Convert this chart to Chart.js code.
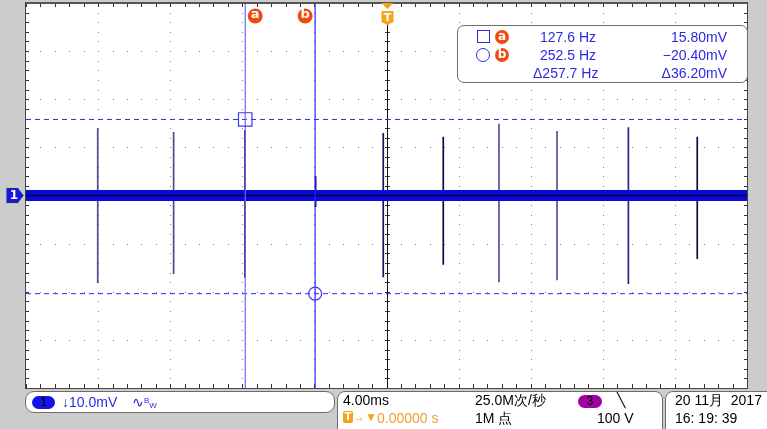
<!DOCTYPE html>
<html>
<head>
<meta charset="utf-8">
<script src="https://cdn.jsdelivr.net/npm/chart.js@4.4.0/dist/chart.umd.min.js"></script>
<style>
  html, body { margin: 0; padding: 0; background: #cccccc; }
  #wrap { position: relative; width: 767px; height: 429px; overflow: hidden; background: #cccccc;
          font-family: "Liberation Sans", Arial, sans-serif; }
  #scope { position: absolute; left: 0; top: 0; }
  .panel { position: absolute; background: #fff; border: 1.5px solid #6e6e6e; box-sizing: border-box; }
  .t { position: absolute; white-space: nowrap; font-size: 14px; line-height: 16px; }
  .blue { color: #2a2ae0; }
  .dot { position: absolute; width: 14px; height: 14px; border-radius: 50%; background: #f04a10;
         color: #fff; font: bold 12px/13px "DejaVu Sans", sans-serif; text-align: center; }
  .pill { position: absolute; height: 13px; border-radius: 7px; font-size: 12px; line-height: 13px;
          text-align: center; color: #000; }
</style>
</head>
<body>
<div id="wrap">
  <canvas id="scope" width="767" height="429"></canvas>

  <!-- cursor readout -->
  <div class="panel" style="left:457px; top:25px; width:291px; height:58px; border-radius:7px;"></div>
  <div style="position:absolute; left:477px; top:30px; width:11px; height:11px; border:1.5px solid #2a2ae0;"></div>
  <div style="position:absolute; left:476px; top:48px; width:12px; height:12px; border:1.5px solid #2a2ae0; border-radius:50%;"></div>
  <div class="dot" style="left:495px; top:30px;">a</div>
  <div class="dot" style="left:495px; top:48px;">b</div>
  <div class="t blue" id="hzA" style="left:540px; top:29px;"></div>
  <div class="t blue" id="hzB" style="left:540px; top:47px;"></div>
  <div class="t blue" id="hzD" style="left:533px; top:65px;"></div>
  <div class="t blue" id="mvA" style="right:40px; top:29px;"></div>
  <div class="t blue" id="mvB" style="right:40px; top:47px;"></div>
  <div class="t blue" id="mvD" style="right:40px; top:65px;"></div>

  <!-- channel box -->
  <div class="panel" style="left:25px; top:391px; width:310px; height:22px; border-radius:9px;"></div>
  <div class="pill" style="left:32px; top:396px; width:23px; background:#1414e6;">1</div>
  <div class="t blue" style="left:62px; top:394px;">↓10.0mV</div>
  <div class="t blue" style="left:132px; top:394px;">∿<span style="font-size:8px; position:relative; top:-4px;">B</span><span style="font-size:8px; position:relative; top:1px;">W</span></div>

  <!-- timebase box -->
  <div class="panel" style="left:337px; top:391px; width:326px; height:48px; border-radius:8px;"></div>
  <div class="t" style="left:343px; top:392px;">4.00ms</div>
  <div style="position:absolute; left:343px; top:411px; width:10px; height:12px; background:#f7a21b; border-radius:2px;
              color:#fff; font:bold 10px/12px 'DejaVu Sans', sans-serif; text-align:center;">T</div>
  <div class="t" style="left:353px; top:409px; color:#f7a21b; font-size:12px;">→▼</div>
  <div class="t" style="left:377px; top:410px; color:#f0a030;">0.00000 s</div>
  <div class="t" style="left:475px; top:392px;">25.0M次/秒</div>
  <div class="pill" style="left:578px; top:395px; width:24px; background:#a000a0;">3</div>
  <div class="t" style="left:617px; top:392px;">╲</div>
  <div class="t" style="left:475px; top:410px;">1M 点</div>
  <div class="t" style="left:597px; top:410px;">100 V</div>

  <!-- clock box -->
  <div class="panel" style="left:665px; top:391px; width:120px; height:48px; border-radius:8px;"></div>
  <div class="t" style="left:675px; top:392px;">20 11月&nbsp; 2017</div>
  <div class="t" style="left:675px; top:410px;">16: 19: 39</div>
</div>

<script>
// time axis in ms, voltage axis in mV (10 divisions x 4 ms, 8 divisions x 10 mV)
const timeRange = [-20, 20];
const voltRange = [-40, 40];

// glitch spikes riding on the baseline
const spikeTimes = [-16.02, -11.81, -7.85, -3.93, -0.18, 3.15, 6.24, 9.46, 13.42, 17.24];
const spikeHigh  = [14.0, 13.2, 13.6, 4.0, 13.0, 12.2, 14.9, 13.4, 14.2, 12.2];
const spikeLow   = [-18.2, -16.3, -17.1, -2.4, -17.0, -14.4, -18.0, -17.6, -18.4, -13.2];
const spikeShade = ['#4a4a90', '#4a4a90', '#10104e', '#10104e', '#16165c', '#0c0c48', '#52529a', '#55559c', '#26267e', '#0c0c48'];

// cursor readouts
const cursorHz = [127.6, 252.5];
const cursorMv = [15.80, -20.40];
const deltaHz = 257.7;
const deltaMv = 36.20;

const tA = -1000 / cursorHz[0];
const tB = -1000 / cursorHz[1];

document.getElementById('hzA').textContent = cursorHz[0].toFixed(1) + ' Hz';
document.getElementById('hzB').textContent = cursorHz[1].toFixed(1) + ' Hz';
document.getElementById('hzD').textContent = '\u0394' + deltaHz.toFixed(1) + ' Hz';
document.getElementById('mvA').textContent = cursorMv[0].toFixed(2) + 'mV';
document.getElementById('mvB').textContent = cursorMv[1].toFixed(2).replace('-', '\u2212') + 'mV';
document.getElementById('mvD').textContent = '\u0394' + deltaMv.toFixed(2) + 'mV';

const flat = (v) => [{ x: timeRange[0], y: v }, { x: timeRange[1], y: v }];
const upright = (t) => [{ x: t, y: voltRange[0] }, { x: t, y: voltRange[1] }];

const datasets = [
    // cursor markers
    { data: [{ x: tA, y: cursorMv[0] }], pointStyle: 'rect', pointRadius: 9.5, borderColor: '#3a3af0',
      backgroundColor: 'rgba(0,0,0,0)', pointBorderWidth: 1.2, showLine: false },
    { data: [{ x: tB, y: cursorMv[1] }], pointStyle: 'circle', pointRadius: 6.5, borderColor: '#3a3af0',
      backgroundColor: 'rgba(0,0,0,0)', pointBorderWidth: 1.2, showLine: false },
    // cursors
    { data: upright(tA), borderColor: '#6a6aff', borderWidth: 1.2 },
    { data: upright(tB), borderColor: '#2626ff', borderWidth: 1.2 },
    { data: flat(cursorMv[0]), borderColor: '#2c2cf0', borderWidth: 1, borderDash: [5, 4] },
    { data: flat(cursorMv[1]), borderColor: '#2c2cf0', borderWidth: 1, borderDash: [5, 4] },
    // trace baseline
    { data: flat(0), borderColor: '#00006a', borderWidth: 2 },
    { data: flat(0), borderColor: '#0a0ad4', borderWidth: 11 },
];
spikeTimes.forEach((t, i) => {
    datasets.push({
        data: [{ x: t, y: spikeHigh[i] }, { x: t, y: spikeLow[i] }],
        borderColor: spikeShade[i],
        borderWidth: 1.7
    });
});

// graticule, trigger line and border
const graticule = {
    id: 'graticule',
    beforeDatasetsDraw(chart) {
        const { ctx, chartArea: a, scales: { x, y } } = chart;
        ctx.save();
        ctx.fillStyle = '#fff';
        ctx.fillRect(a.left, a.top, a.right - a.left, a.bottom - a.top);

        const xs = [], ys = [];
        for (let i = 0; i <= 50; i++) xs.push(Math.round(x.getPixelForValue(timeRange[0] + i * 0.8)));
        for (let i = 0; i <= 40; i++) ys.push(Math.round(y.getPixelForValue(voltRange[0] + i * 2)));
        const cx = xs[25], cy = ys[20];

        ctx.fillStyle = '#7a7a7a';
        for (let i = 0; i <= 50; i += 5) ys.forEach(py => ctx.fillRect(xs[i], py, 1, 1));
        for (let j = 0; j <= 40; j += 5) xs.forEach(px => ctx.fillRect(px, ys[j], 1, 1));

        ctx.fillStyle = '#333';
        ys.forEach(py => {
            ctx.fillRect(cx - 2, py, 5, 1);
            ctx.fillRect(a.left, py, 3, 1);
            ctx.fillRect(a.right - 3, py, 3, 1);
        });
        xs.forEach(px => {
            ctx.fillRect(px, cy - 2, 1, 5);
            ctx.fillRect(px, a.top, 1, 4);
            ctx.fillRect(px, a.bottom - 4, 1, 4);
        });

        // trigger position
        ctx.fillStyle = '#111';
        ctx.fillRect(cx, a.top + 20, 1, a.bottom - a.top - 20);
        ctx.restore();
    },
    afterDatasetsDraw(chart) {
        const { ctx, chartArea: a, scales: { x, y } } = chart;
        ctx.save();
        ctx.strokeStyle = '#444';
        ctx.lineWidth = 1;
        ctx.strokeRect(a.left - 0.5, a.top - 0.5, a.right - a.left + 1, a.bottom - a.top + 1);
        ctx.fillStyle = '#555';
        ctx.fillRect(a.left, a.top - 1, a.right - a.left, 2);

        ctx.textAlign = 'center';
        ctx.textBaseline = 'middle';

        // cursor tags
        const tag = (px, label) => {
            ctx.fillStyle = '#f04a10';
            ctx.beginPath();
            ctx.arc(px, a.top + 13, 7.5, 0, Math.PI * 2);
            ctx.fill();
            ctx.fillStyle = '#fff';
            ctx.font = 'bold 13px "DejaVu Sans", sans-serif';
            ctx.fillText(label, px, a.top + 12);
        };
        tag(x.getPixelForValue(tA) + 10, 'a');
        tag(x.getPixelForValue(tB) - 10, 'b');

        // trigger tag
        const tx = Math.round(x.getPixelForValue(0)) + 0.5;
        ctx.fillStyle = '#f7a21b';
        ctx.beginPath();
        ctx.moveTo(tx - 6, a.top);
        ctx.lineTo(tx + 6, a.top);
        ctx.lineTo(tx, a.top + 6);
        ctx.closePath();
        ctx.fill();
        ctx.beginPath();
        ctx.moveTo(tx - 6, a.top + 8);
        ctx.lineTo(tx + 6, a.top + 8);
        ctx.lineTo(tx + 6, a.top + 19);
        ctx.lineTo(tx, a.top + 22);
        ctx.lineTo(tx - 6, a.top + 19);
        ctx.closePath();
        ctx.fill();
        ctx.fillStyle = '#fff';
        ctx.font = 'bold 11px "DejaVu Sans", sans-serif';
        ctx.fillText('T', tx, a.top + 15);

        // channel 1 ground marker
        const gy = y.getPixelForValue(0);
        ctx.fillStyle = '#1818d8';
        ctx.strokeStyle = '#c8c890';
        ctx.beginPath();
        ctx.moveTo(6, gy - 8);
        ctx.lineTo(18, gy - 8);
        ctx.lineTo(24, gy);
        ctx.lineTo(18, gy + 8);
        ctx.lineTo(6, gy + 8);
        ctx.closePath();
        ctx.fill();
        ctx.stroke();
        ctx.fillStyle = '#fff';
        ctx.font = 'bold 12px "DejaVu Sans", sans-serif';
        ctx.fillText('1', 14, gy + 0.5);
        ctx.restore();
    }
};

new Chart(document.getElementById('scope'), {
    type: 'line',
    data: { datasets },
    options: {
        responsive: false,
        animation: false,
        events: [],
        devicePixelRatio: 1,
        layout: { autoPadding: false, padding: { left: 26, right: 20, top: 3, bottom: 41 } },
        elements: { point: { radius: 0 }, line: { tension: 0 } },
        scales: {
            x: { type: 'linear', min: timeRange[0], max: timeRange[1], display: false },
            y: { type: 'linear', min: voltRange[0], max: voltRange[1], display: false }
        },
        plugins: { legend: { display: false }, tooltip: { enabled: false } }
    },
    plugins: [graticule]
});
</script>
</body>
</html>
